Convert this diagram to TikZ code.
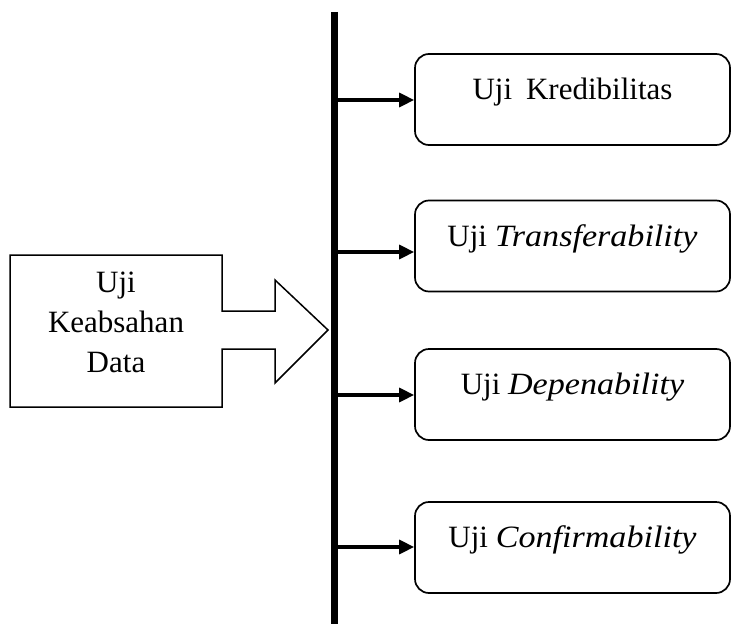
\documentclass[tikz,border=0pt]{standalone}
\usepackage{fontspec}
\setmainfont{Liberation Serif}
\newfontface\wideit[FakeStretch=1.1]{Liberation Serif Italic}
\usetikzlibrary{arrows.meta}
\begin{document}
\begin{tikzpicture}[x=1pt,y=-1pt,
  box/.style={draw, line width=1.7pt, rounded corners=14pt, minimum width=315pt,
    minimum height=91pt, text height=20pt, text depth=20pt, inner sep=0pt,
    font=\fontsize{31}{36}\selectfont},
  conn/.style={line width=3.2pt, -{Triangle[length=15pt,width=14pt]}},
  bar/.style={line width=7pt},
  bigarrow/.style={draw, line width=1.5pt},
  srctext/.style={align=center, inner sep=0pt, font=\fontsize{31}{40}\selectfont}]
\useasboundingbox (0,0) rectangle (731,626);

% vertical bar
\coordinate (bartop) at (334,12);
\coordinate (barbot) at (334,624);
\draw[bar] (bartop) -- (barbot);

% big block arrow
\draw[bigarrow] (10,255) -- (222,255) -- (222,311) -- (275,311) -- (275,280) -- (328,330)
  -- (275,383) -- (275,349) -- (222,349) -- (222,407) -- (10,407) -- cycle;
\node[srctext] (src) at (116,322) {Uji\\Keabsahan\\Data};

% boxes
\node[box] (b1) at (572.5,99.5) {Uji\hspace{0.45em}Kredibilitas};
\node[box] (b2) at (572.5,246) {Uji {\wideit Transferability}};
\node[box] (b3) at (572.5,394.5) {Uji {\wideit Depenability}};
\node[box] (b4) at (572.5,547.5) {Uji {\wideit Confirmability}};

% connectors
\coordinate (p1) at (334,100);
\coordinate (p2) at (334,252);
\coordinate (p3) at (334,395);
\coordinate (p4) at (334,547);
\draw[conn] (p1) -- (p1 -| b1.west);
\draw[conn] (p2) -- (p2 -| b2.west);
\draw[conn] (p3) -- (p3 -| b3.west);
\draw[conn] (p4) -- (p4 -| b4.west);
\end{tikzpicture}
\end{document}
